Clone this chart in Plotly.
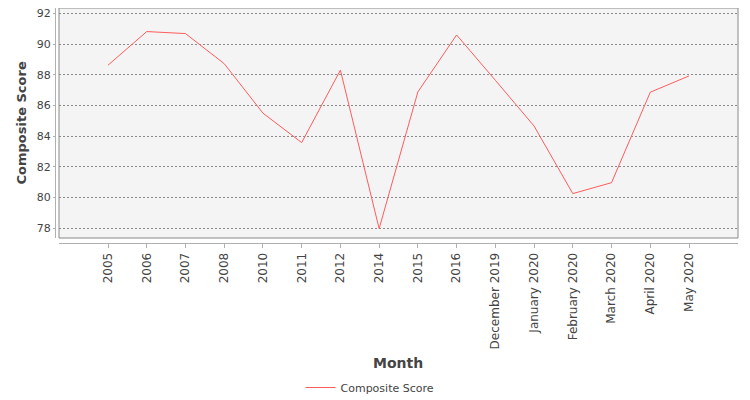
import plotly.graph_objects as go

months = ["2005", "2006", "2007", "2008", "2010", "2011", "2012", "2014", "2015",
          "2016", "December 2019", "January 2020", "February 2020", "March 2020",
          "April 2020", "May 2020"]
composite_score = [88.62, 90.81, 90.68, 88.72, 85.50, 83.58, 88.30, 77.98, 86.88,
                   90.59, 87.64, 84.66, 80.26, 80.97, 86.86, 87.92]
y_ticks = [78, 80, 82, 84, 86, 88, 90, 92]

# the page body has an 8px margin, so the figure is drawn 8px in from the window corner
OFF = 8
WIN_W, WIN_H = 750, 400
W, H = WIN_W - OFF, WIN_H - OFF
AX_X, AX_Y = 55, 243          # window pixels of the (offset) axis lines
ML, MR, MT, MB = AX_X - OFF, 12, 8 - OFF, WIN_H - AX_Y
PW, PH = W - ML - MR, H - MT - MB
xd0 = 4 / PW
yd0 = 5 / PH

def px_x(p):
    return (p - AX_X) / PW

def px_y(p):
    return (AX_Y - p) / PH

text_color = "#444444"
font = "DejaVu Sans"

fig = go.Figure()
fig.add_trace(go.Scatter(
    x=months, y=composite_score, mode="lines", name="Composite Score",
    line=dict(color="#ff5c5c", width=1),
))

fig.update_layout(
    width=W, height=H,
    margin=dict(l=ML, r=MR, t=MT, b=MB, autoexpand=False),
    paper_bgcolor="white", plot_bgcolor="#f4f4f4",
    font=dict(family=font, color=text_color, size=12),
    showlegend=True,
    legend=dict(orientation="h", x=px_x(370), y=px_y(387.5), xanchor="center",
                yanchor="middle", font=dict(size=11, color=text_color),
                itemwidth=30, bgcolor="rgba(0,0,0,0)"),
    xaxis=dict(
        type="category", domain=[xd0, 1], anchor="free", position=0,
        range=[-1.265, len(months) - 1 + 1.265],
        showgrid=False, zeroline=False,
        showline=True, linecolor="#b0b0b0", linewidth=1,
        ticks="outside", ticklen=4, tickcolor="#b0b0b0",
        tickangle=-90, tickfont=dict(size=12, color=text_color),
        automargin=False,
    ),
    yaxis=dict(
        domain=[yd0, 1], anchor="free", position=0,
        range=[77.368, 92.345],
        tickvals=y_ticks, ticktext=[str(v) for v in y_ticks],
        showgrid=True, gridcolor="#8a8a8a", gridwidth=1, griddash="2px,2px",
        zeroline=False,
        showline=True, linecolor="#b0b0b0", linewidth=1,
        ticks="outside", ticklen=2, tickcolor="#b0b0b0",
        tickfont=dict(size=11, color=text_color),
        ticklabeloverflow="allow",
        automargin=False,
    ),
    shapes=[dict(type="rect", xref="paper", yref="paper", x0=xd0, x1=1, y0=yd0, y1=1,
                 line=dict(color="#888888", width=1), fillcolor="rgba(0,0,0,0)",
                 layer="above")],
    annotations=[
        dict(text="<b>Month</b>", xref="paper", yref="paper", x=px_x(398), y=px_y(363),
             showarrow=False, xanchor="center", yanchor="middle",
             font=dict(size=14, color=text_color, family=font)),
        dict(text="<b>Composite Score</b>", xref="paper", yref="paper", x=px_x(20.5),
             y=px_y(123), showarrow=False, xanchor="center", yanchor="middle",
             textangle=-90, font=dict(size=13, color=text_color, family=font)),
    ],
)

fig.write_html("out.html")
